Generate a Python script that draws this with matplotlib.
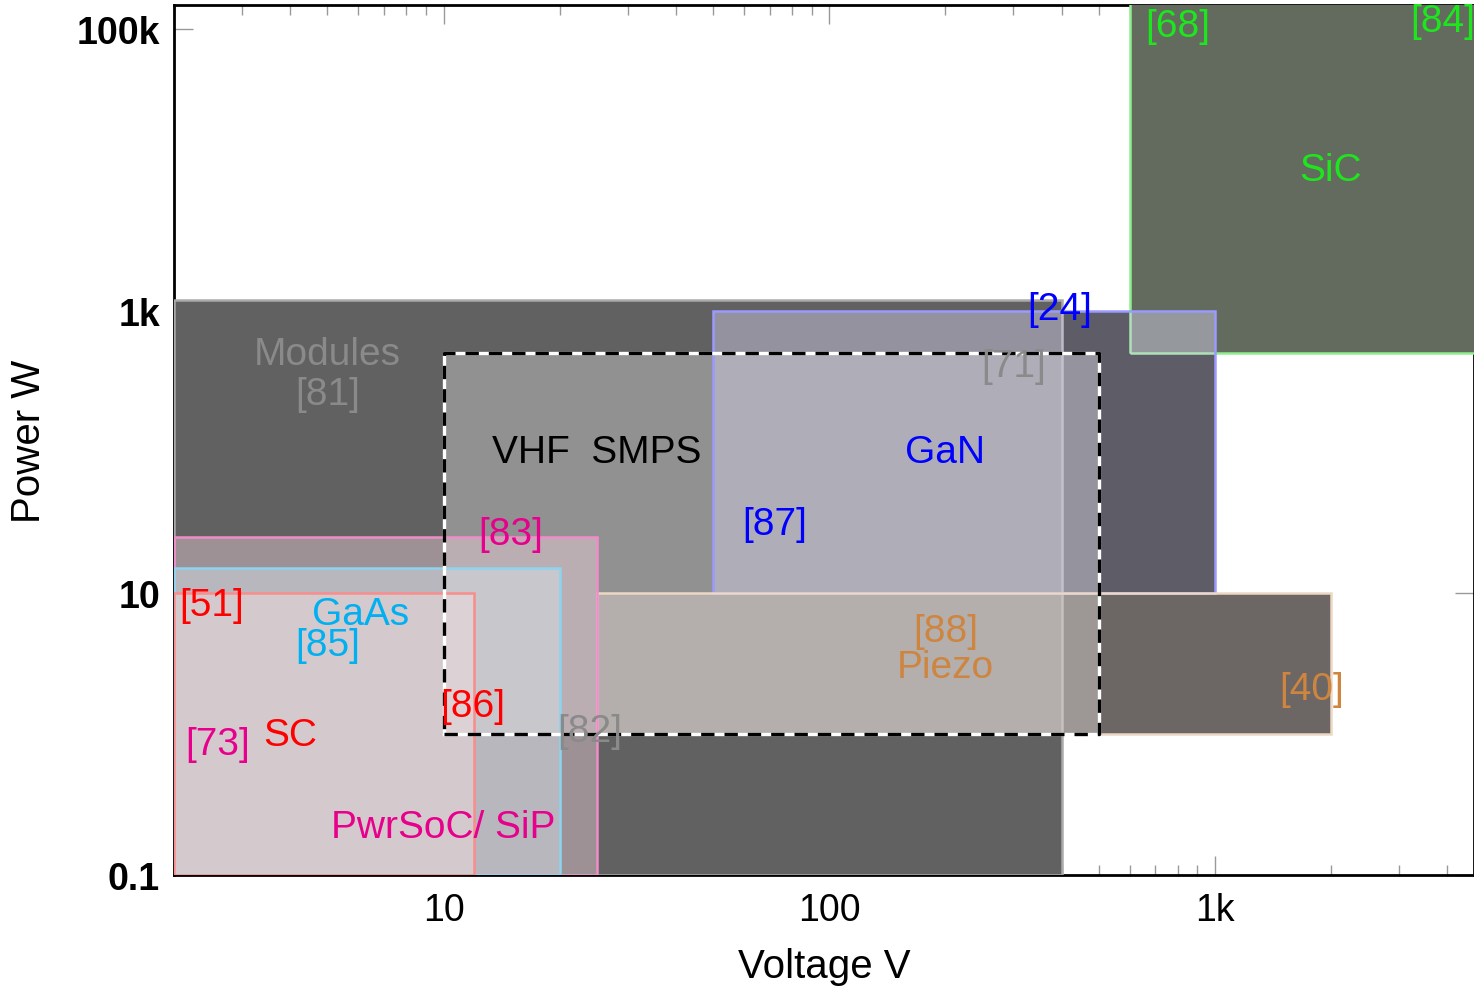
import numpy as np
import matplotlib
matplotlib.use("Agg")
import matplotlib.pyplot as plt
from matplotlib.patches import Rectangle

plt.rcParams['font.family'] = ['Liberation Sans', 'DejaVu Sans']

# operating regions: voltage range (V) and power range (W)
regions = ['Modules', 'VHF SMPS', 'SiC', 'GaN', 'Piezo', 'PwrSoC/SiP', 'GaAs', 'SC']
v_low = [2, 10, 600, 50, 25, 2, 2, 2]
v_high = [400, 500, 1e4, 1000, 2000, 25, 20, 12]
p_low = [0.1, 1, 500, 10, 1, 0.1, 0.1, 0.1]
p_high = [1200, 500, 1e6, 1000, 10, 25, 15, 10]

# fill colour, fill alpha, edge colour
fills = ['#616161', '#c0c0c0', '#dcedd3', '#d6d2eb', '#d8cec8', '#f8dae6', '#d7e7ed', '#f1dcdd']
alphas = [1.0, 0.515, 0.45, 0.443, 0.5, 0.4, 0.45, 0.5]
edges = ['#aaaaaa', None, '#90ee90', '#9a9aff', '#ecd8c4', '#f08cc8', '#8cd4f0', '#fa8c8c']

# labels: text, x, y, colour
labels = ['Modules', '[81]', 'VHF  SMPS', 'GaN', '[87]', '[24]', '[71]', '[68]', '[84]',
          'SiC', '[83]', '[51]', 'GaAs', '[85]', '[88]', 'Piezo', '[40]', '[86]',
          '[82]', '[73]', 'SC', 'PwrSoC/ SiP']
label_x = [5.0, 5.0, 25, 200, 72, 396, 300, 800, 3890,
           1990, 14.9, 2.5, 6.1, 5.0, 200, 200, 1780, 11.9,
           24, 2.6, 4.0, 10]
label_y = [495, 258, 100, 100, 31, 1030, 408, 1.05e5, 1.14e5,
           1.0e4, 26, 8.2, 7.1, 4.3, 5.4, 3.0, 2.1, 1.58,
           1.05, 0.85, 0.98, 0.22]
GRAY, BLUE, GREEN, MAG, RED, CYAN, TAN = ('#8a8a8a', '#0000ff', '#1ee61e', '#e6008c',
                                          '#ff0000', '#00b0f0', '#cd853f')
label_c = [GRAY, GRAY, 'black', BLUE, BLUE, BLUE, GRAY, GREEN, GREEN,
           GREEN, MAG, RED, CYAN, CYAN, TAN, TAN, TAN, RED,
           GRAY, MAG, RED, MAG]

fig = plt.figure(figsize=(14.74, 9.87), dpi=100)
ax = fig.add_axes([0.118, 0.1125, 0.882, 0.8814])
ax.set_xscale('log')
ax.set_yscale('log')
ax.set_xlim(2, 4690)
ax.set_ylim(0.1, 1.48e5)

# dark underlay so the transparent boxes blend against a dark base
for i in range(len(regions)):
    ax.add_patch(Rectangle((v_low[i], p_low[i]), v_high[i] - v_low[i], p_high[i] - p_low[i],
                           facecolor='black', edgecolor='none', zorder=3))

for i in range(len(regions)):
    r = Rectangle((v_low[i], p_low[i]), v_high[i] - v_low[i], p_high[i] - p_low[i],
                  facecolor=fills[i], alpha=alphas[i], edgecolor='none', zorder=4 + i * 0.1)
    ax.add_patch(r)
    if edges[i] is not None:
        ax.add_patch(Rectangle((v_low[i], p_low[i]), v_high[i] - v_low[i], p_high[i] - p_low[i],
                               facecolor='none', edgecolor=edges[i], lw=1.8, zorder=4 + i * 0.1 + 0.05))

# dashed black/white outline of the VHF SMPS region
k = regions.index('VHF SMPS')
bx = [v_low[k], v_high[k], v_high[k], v_low[k], v_low[k]]
by = [p_low[k], p_low[k], p_high[k], p_high[k], p_low[k]]
ax.plot(bx, by, color='white', lw=2.4, zorder=6)
ax.plot(bx, by, color='black', lw=2.4, ls=(0, (4, 3)), zorder=6.1)

for t, x, y, c in zip(labels, label_x, label_y, label_c):
    ax.text(x, y, t, color=c, fontsize=28, ha='center', va='center', zorder=7)

ax.set_xticks([10, 100, 1000])
ax.set_xticklabels(['10', '100', '1k'])
ax.set_yticks([0.1, 10, 1000, 1e5])
ax.set_yticklabels(['0.1', '10', '1k', '100k'])
ax.yaxis.set_minor_locator(matplotlib.ticker.NullLocator())
ax.tick_params(which='both', direction='in', top=True, right=True, color='#999999')
ax.tick_params(which='major', length=14, width=1)
ax.tick_params(which='minor', length=7, width=1)
ax.tick_params(axis='x', labelsize=27, pad=12)
ax.tick_params(axis='y', labelsize=27, pad=10)
for lab in ax.get_yticklabels():
    lab.set_fontweight('bold')
for s in ax.spines.values():
    s.set_linewidth(2)

ax.set_xlabel('Voltage V', fontsize=29, labelpad=14)
ax.set_ylabel('Power W', fontsize=29)
ax.yaxis.set_label_coords(-0.097, 0.5)

fig.savefig('out.png', dpi=100)
